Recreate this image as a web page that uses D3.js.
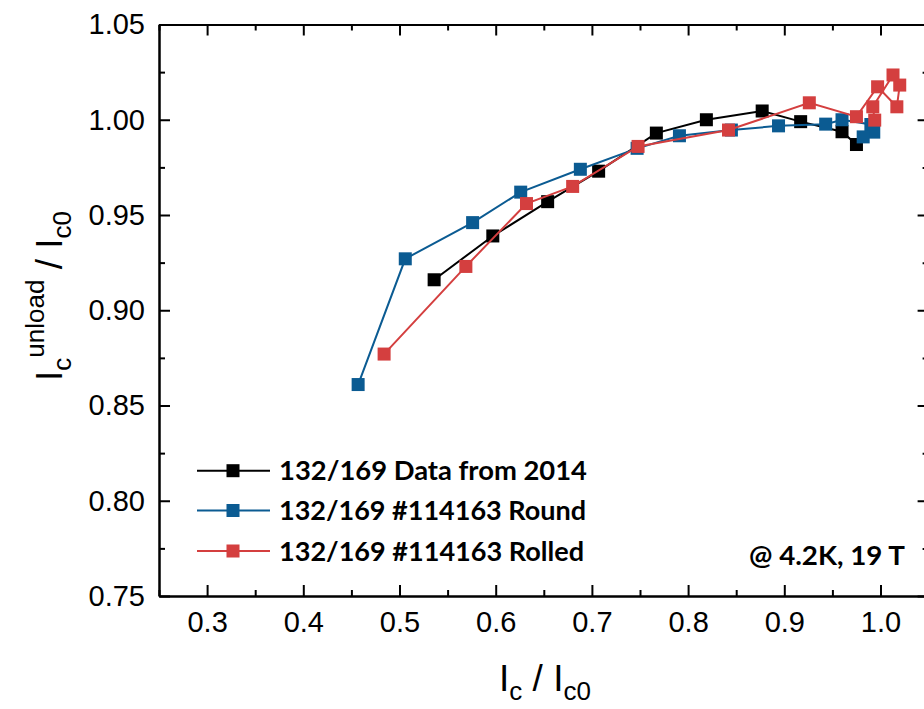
<!DOCTYPE html>
<html>
<head>
<meta charset="utf-8">
<script src="https://cdn.jsdelivr.net/npm/d3@7"></script>
<style>
  body { margin: 0; background: #fff; }
  svg { display: block; }
  .tick text { font-family: "Liberation Sans", Arial, sans-serif; font-size: 29px; fill: #000; }
  .leg { font-family: Lato, "Open Sans", sans-serif; font-weight: bold; font-size: 27px; fill: #000; }
</style>
</head>
<body>
<svg id="chart" width="924" height="709"></svg>
<script>
// 数据：三个系列的 x (Ic/Ic0) 和 y (Ic_unload/Ic0)
const blackX = [0.536, 0.597, 0.654, 0.707, 0.767, 0.819, 0.877, 0.917, 0.960, 0.975];
const blackY = [0.916, 0.939, 0.957, 0.973, 0.993, 1.000, 1.0046, 0.999, 0.9937, 0.987];

const blueX = [0.457, 0.506, 0.576, 0.626, 0.688, 0.747, 0.791, 0.845, 0.894, 0.943, 0.960, 0.990, 0.993, 0.982];
const blueY = [0.861, 0.927, 0.946, 0.962, 0.974, 0.985, 0.9916, 0.9946, 0.9968, 0.9977, 1.000, 0.9975, 0.9935, 0.991];

const redX = [0.484, 0.569, 0.632, 0.680, 0.748, 0.842, 0.926, 0.975, 0.997, 1.017, 1.020, 1.013, 0.992, 0.994];
const redY = [0.877, 0.923, 0.956, 0.965, 0.986, 0.9946, 1.0089, 1.0016, 1.0173, 1.0068, 1.0182, 1.0235, 1.0068, 0.9998];

const seriesNames = ["132/169 Data from 2014", "132/169 #114163 Round", "132/169 #114163 Rolled"];
const seriesColors = ["#000000", "#0b5b92", "#d43f3f"];

const xTicks = [0.3, 0.4, 0.5, 0.6, 0.7, 0.8, 0.9, 1.0];
const yTicks = [0.75, 0.80, 0.85, 0.90, 0.95, 1.00, 1.05];

const svg = d3.select("#chart");

// 坐标轴范围
const pLeft = 159, pRight = 928.6, pTop = 24.5, pBottom = 596;
const x = d3.scaleLinear().domain([0.25, 1.05]).range([pLeft, pRight]);
const y = d3.scaleLinear().domain([0.75, 1.05]).range([pBottom, pTop]);

const minorX = d3.range(0.25, 1.051, 0.05).filter(v => !xTicks.some(t => Math.abs(t - v) < 1e-6));
const minorY = d3.range(0.75, 1.051, 0.025).filter(v => !yTicks.some(t => Math.abs(t - v) < 1e-6));

function styleAxis(g) {
    g.selectAll("path.domain").attr("stroke", "#000").attr("stroke-width", 2);
    g.selectAll(".tick line").attr("stroke", "#000").attr("stroke-width", 2);
}

// 下轴 + 上轴
svg.append("g").attr("transform", `translate(0,${pBottom})`)
    .call(d3.axisBottom(x).tickValues(xTicks).tickFormat(d3.format(".1f")).tickSize(-11).tickSizeOuter(0).tickPadding(15))
    .call(styleAxis);
svg.append("g").attr("transform", `translate(0,${pBottom})`)
    .call(d3.axisBottom(x).tickValues(minorX).tickFormat("").tickSize(-6).tickSizeOuter(0))
    .call(styleAxis);
svg.append("g").attr("transform", `translate(0,${pTop})`)
    .call(d3.axisTop(x).tickValues(xTicks).tickFormat("").tickSize(-11).tickSizeOuter(0))
    .call(styleAxis);
svg.append("g").attr("transform", `translate(0,${pTop})`)
    .call(d3.axisTop(x).tickValues(minorX).tickFormat("").tickSize(-6).tickSizeOuter(0))
    .call(styleAxis);

// 左轴 + 右轴
svg.append("g").attr("transform", `translate(${pLeft},0)`)
    .call(d3.axisLeft(y).tickValues(yTicks).tickFormat(d3.format(".2f")).tickSize(-11).tickSizeOuter(0).tickPadding(14))
    .call(styleAxis);
svg.append("g").attr("transform", `translate(${pLeft},0)`)
    .call(d3.axisLeft(y).tickValues(minorY).tickFormat("").tickSize(-6).tickSizeOuter(0))
    .call(styleAxis);
svg.append("g").attr("transform", `translate(${pRight},0)`)
    .call(d3.axisRight(y).tickValues(yTicks).tickFormat("").tickSize(-11).tickSizeOuter(0))
    .call(styleAxis);
svg.append("g").attr("transform", `translate(${pRight},0)`)
    .call(d3.axisRight(y).tickValues(minorY).tickFormat("").tickSize(-6).tickSizeOuter(0))
    .call(styleAxis);

// 系列：先画线再画方块
const series = [
    { xs: blackX, ys: blackY },
    { xs: blueX, ys: blueY },
    { xs: redX, ys: redY }
];
const line = d3.line().x(d => x(d[0])).y(d => y(d[1]));
const ms = 13;
series.forEach((s, i) => {
    const pts = s.xs.map((v, j) => [v, s.ys[j]]);
    svg.append("path").datum(pts)
        .attr("d", line).attr("fill", "none")
        .attr("stroke", seriesColors[i]).attr("stroke-width", 2);
    svg.append("g").selectAll("rect").data(pts).enter().append("rect")
        .attr("x", d => x(d[0]) - ms / 2).attr("y", d => y(d[1]) - ms / 2)
        .attr("width", ms).attr("height", ms)
        .attr("fill", seriesColors[i]);
});

// 图例
const legLines = [470.7, 510.5, 551];
const legWidths = [308, 307, 305];
seriesNames.forEach((name, i) => {
    const ly = legLines[i];
    svg.append("line").attr("x1", 197).attr("x2", 270).attr("y1", ly).attr("y2", ly)
        .attr("stroke", seriesColors[i]).attr("stroke-width", 2);
    svg.append("rect").attr("x", 233 - ms / 2).attr("y", ly - ms / 2)
        .attr("width", ms).attr("height", ms).attr("fill", seriesColors[i]);
    svg.append("text").attr("class", "leg").attr("x", 279).attr("y", ly + 9.5)
        .attr("textLength", legWidths[i]).attr("lengthAdjust", "spacingAndGlyphs")
        .text(name);
});

svg.append("text").attr("class", "leg").attr("x", 749).attr("y", 565)
    .attr("textLength", 156).attr("lengthAdjust", "spacingAndGlyphs")
    .text("@ 4.2K, 19 T");

// 轴标题
const titleFont = "'Liberation Sans', Arial, sans-serif";
const xt = svg.append("text")
    .attr("transform", "translate(545,691)")
    .attr("text-anchor", "middle")
    .style("font-family", titleFont).style("font-size", "37px");
xt.append("tspan").text("I");
xt.append("tspan").attr("dy", 9).style("font-size", "26px").text("c");
xt.append("tspan").attr("dy", -9).text(" / I");
xt.append("tspan").attr("dy", 9).style("font-size", "26px").text("c0");

const yt = svg.append("text")
    .attr("transform", "translate(62,296) rotate(-90)")
    .attr("text-anchor", "middle")
    .style("font-family", titleFont).style("font-size", "37px");
yt.append("tspan").text("I");
yt.append("tspan").attr("dy", 9).style("font-size", "26px").text("c");
yt.append("tspan").attr("dy", -27).style("font-size", "26px").text("unload");
yt.append("tspan").attr("dy", 18).text(" / I");
yt.append("tspan").attr("dy", 9).style("font-size", "26px").text("c0");
</script>
</body>
</html>
